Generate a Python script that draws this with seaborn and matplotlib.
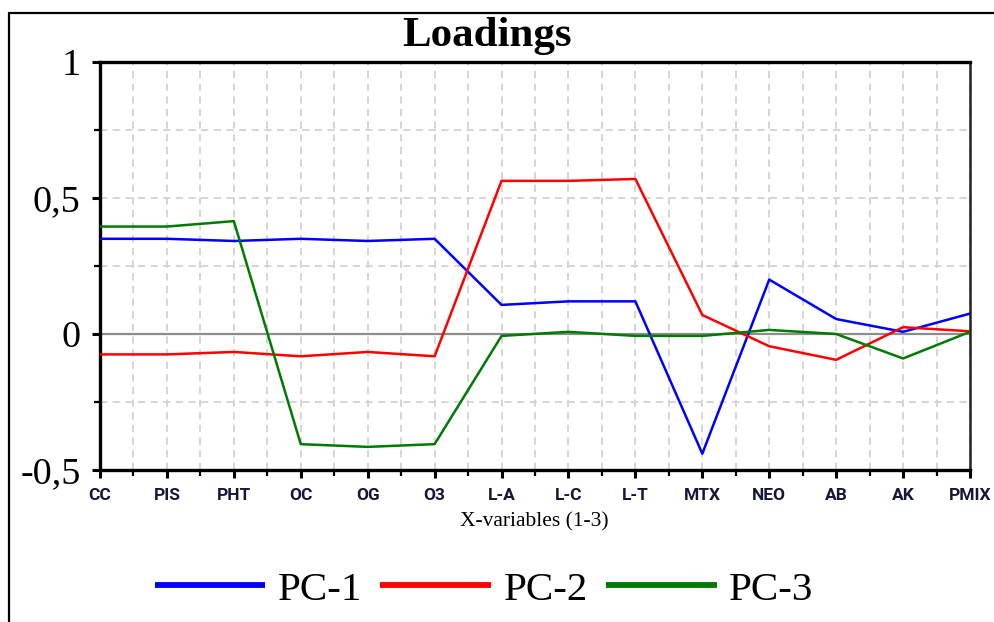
import numpy as np
import pandas as pd
import matplotlib
matplotlib.use("Agg")
import matplotlib.pyplot as plt
from matplotlib.lines import Line2D
from matplotlib.ticker import MultipleLocator, FixedLocator
import seaborn as sns

# Variables on the x axis
variables = ["CC", "PIS", "PHT", "OC", "OG", "O3", "L-A", "L-C", "L-T",
             "MTX", "NEO", "AB", "AK", "PMIX"]

# Loadings of the first three principal components
pc1 = [0.350, 0.350, 0.342, 0.350, 0.342, 0.350, 0.107, 0.120, 0.120,
       -0.440, 0.200, 0.055, 0.008, 0.075]
pc2 = [-0.075, -0.075, -0.066, -0.082, -0.066, -0.082, 0.563, 0.563, 0.570,
       0.070, -0.045, -0.095, 0.025, 0.010]
pc3 = [0.395, 0.395, 0.415, -0.405, -0.415, -0.405, -0.007, 0.008, -0.007,
       -0.007, 0.015, 0.000, -0.090, 0.008]

components = ["PC-1", "PC-2", "PC-3"]
colors = ["#0000ff", "#ff0000", "#007a00"]

y_ticks = [1, 0.5, 0, -0.5]
y_tick_labels = ["1", "0,5", "0", "-0,5"]

rows = []
for name, vals in zip(components, [pc1, pc2, pc3]):
    for i, v in enumerate(vals):
        rows.append({"pos": i, "variable": variables[i], "loading": v, "component": name})
df = pd.DataFrame(rows)

sns.set_theme(style="white")
plt.rcParams["font.family"] = ["Liberation Serif", "DejaVu Serif"]
plt.rcParams["text.color"] = "black"
plt.rcParams["axes.labelcolor"] = "black"

fig = plt.figure(figsize=(9.95, 6.22), dpi=100)
ax = fig.add_axes([100 / 995, 1 - 470 / 622, 870 / 995, 408 / 622])

# horizontal zero line sits under the data lines
ax.axhline(0, color="#8c8c8c", lw=1.6, zorder=1)

sns.lineplot(data=df, x="pos", y="loading", hue="component",
             palette=dict(zip(components, colors)), sort=False,
             lw=1.8, legend=False, ax=ax, zorder=3)

ax.set_xlim(0, len(variables) - 1)
ax.set_ylim(-0.5, 1)

# axes ticks
ax.xaxis.set_major_locator(FixedLocator(range(len(variables))))
ax.xaxis.set_minor_locator(MultipleLocator(0.5))
ax.set_xticklabels(variables, family=["Roboto", "DejaVu Sans"],
                   fontweight="bold", fontsize=12.5, color="#16163a")
ax.yaxis.set_major_locator(FixedLocator(y_ticks))
ax.yaxis.set_minor_locator(FixedLocator([0.75, 0.25, -0.25]))
ax.set_yticklabels(y_tick_labels, fontsize=27.5, color="black")

ax.tick_params(axis="both", which="major", direction="out", length=6, width=2.2,
               color="black", bottom=True, left=True)
ax.tick_params(axis="both", which="minor", direction="out", length=4, width=1.6,
               color="black", bottom=True, left=True)
ax.tick_params(axis="x", which="major", pad=7)
ax.tick_params(axis="y", which="major", pad=8)

# dashed grid at every tick position, major and minor
ax.grid(True, which="both", color="#d2d2d2", ls=(0, (4, 3)), lw=1.3, zorder=0)
for gl in ax.get_ygridlines():
    if np.isclose(gl.get_ydata()[0], 0):
        gl.set_visible(False)

for side in ["left", "bottom", "top"]:
    ax.spines[side].set_color("black")
    ax.spines[side].set_linewidth(2.4)
ax.spines["right"].set_color("#222222")
ax.spines["right"].set_linewidth(1.8)

ax.set_xlabel("")
ax.set_ylabel("")
fig.text(534 / 995, 1 - 522 / 622, "X-variables (1-3)", ha="center", va="center",
         fontsize=15.5, color="black")

fig.text(487 / 995, 1 - 36 / 622, "Loadings", ha="center", va="center",
         fontsize=31, fontweight="bold", color="black")

# frame around the figure (left and top edges)
fig.add_artist(Line2D([9 / 995, 9 / 995], [0, 1 - 13 / 622], transform=fig.transFigure,
                      color="black", lw=1.6))
fig.add_artist(Line2D([9 / 995, 1], [1 - 13 / 622, 1 - 13 / 622], transform=fig.transFigure,
                      color="black", lw=1.6))

handles = [Line2D([], [], color=c, lw=4.2, solid_capstyle="butt") for c in colors]
fig.legend(handles, components, loc="center", bbox_to_anchor=(484 / 995, 1 - 590 / 622),
           ncol=3, frameon=False, fontsize=29.5, handlelength=2.7, handletextpad=0.3,
           columnspacing=0.45, labelcolor="black")

fig.savefig("out.png", dpi=100)
